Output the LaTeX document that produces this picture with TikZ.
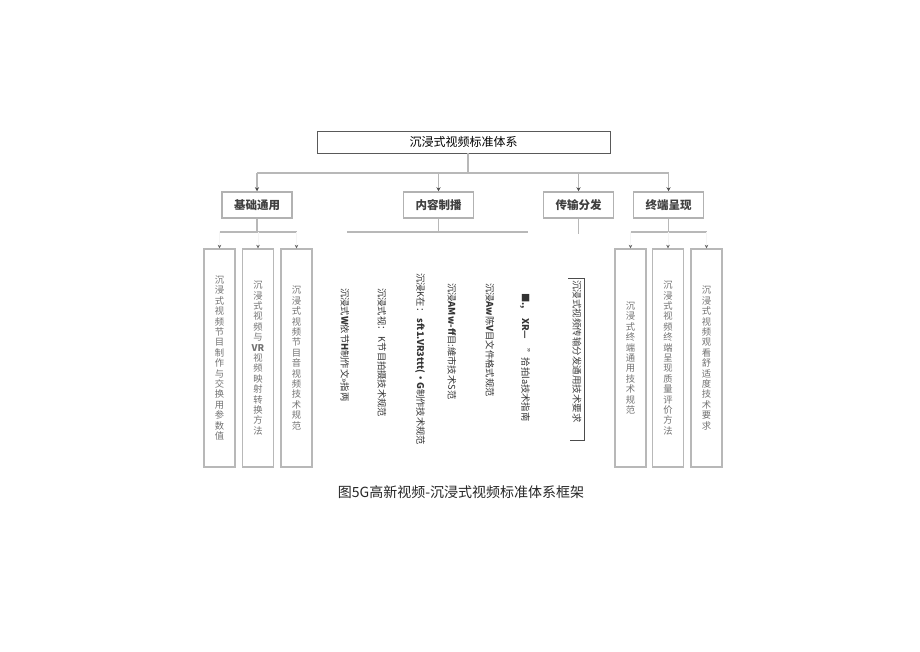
\documentclass[tikz,border=0pt]{standalone}
\usepackage{fontspec}
\setmainfont{Noto Sans CJK SC}
\usetikzlibrary{arrows.meta}
\ExplSyntaxOn
\tl_new:N \l_vt_tl
\NewDocumentCommand\vtext{m}{
  \tl_clear:N \l_vt_tl
  \tl_map_inline:nn {#1}{
    \tl_if_empty:NF \l_vt_tl {\tl_put_right:Nn \l_vt_tl {\\}}
    \tl_put_right:Nn \l_vt_tl {##1}
  }
  \tl_use:N \l_vt_tl
}
\ExplSyntaxOff
\tikzset{
 topbox/.style={draw=black!65, line width=0.9pt, minimum width=293pt, minimum height=22pt, inner sep=0pt, font=\fontsize{12}{14}\selectfont},
 catbox/.style={draw=black!30, line width=1.5pt, minimum width=70pt, minimum height=26pt, inner sep=0pt, font=\fontsize{11.5}{13}\selectfont\bfseries, text=black!75},
 leafbox/.style={draw=black!28, line width=1.4pt, minimum width=31pt, minimum height=218pt, inner sep=0pt, align=center, text=black!55, font=\fontsize{9.3}{10.4}\selectfont},
 link/.style={draw=black!28, line width=1.3pt},
 arr/.style={link, -{Stealth[length=4pt,width=4pt,color=black!70]}},
 leafarr/.style={draw=black!4, line width=0.8pt, -{Stealth[length=3.5pt,width=3.5pt,color=black!60]}},
 rottext/.style={rotate=-90, anchor=west, inner sep=0pt, text=black!80, font=\fontsize{9.3}{10}\selectfont},
 bracketline/.style={draw=black!70, line width=0.9pt},
 captext/.style={font=\fontsize{14}{16}\selectfont, text=black!85},
}
\begin{document}
\begin{tikzpicture}[x=1pt,y=-1pt]
\useasboundingbox[fill=white] (0,0) rectangle (920,651);

% top
\node[topbox] (top) at (463.5,142) {沉浸式视频标准体系};

% categories
\node[catbox] (c1) at (257,205) {基础通用};
\node[catbox] (c2) at (438.5,205) {内容制播};
\node[catbox] (c3) at (578.5,205) {传输分发};
\node[catbox] (c4) at (668.5,205) {终端呈现};

\coordinate (j0) at (468,173);
\coordinate (busy) at (0,232);
\coordinate (busy3) at (0,234);
\coordinate (m1) at (347,232);
\coordinate (m2) at (528,232);

\draw[link] (top.south -| j0) -- (j0);
\draw[link] (c1.north |- j0) -- (c4.north |- j0);
\foreach \c in {c1,c2,c3,c4}{
  \draw[arr] (\c.north |- j0) -- (\c.north);
}

% leaves left
\node[leafbox] (l1) at (219.5,358) {\vtext{沉浸式视频节目制作与交换用参数值}};
\node[leafbox] (l2) at (258,358) {\vtext{沉浸式视频与{\textbf{VR}}视频映射转换方法}};
\node[leafbox] (l3) at (296.5,358) {\vtext{沉浸式视频节目音视频技术规范}};

% leaves right
\node[leafbox] (r1) at (630.5,358) {\vtext{沉浸式终端通用技术规范}};
\node[leafbox] (r2) at (668,358) {\vtext{沉浸式视频终端呈现质量评价方法}};
\node[leafbox] (r3) at (706.5,358) {\vtext{沉浸式视频观看舒适度技术要求}};

% buses
\draw[link] (c1.south) -- (c1.south |- busy);
\draw[link] (l1.north |- busy) -- (l3.north |- busy);
\draw[link] (c2.south) -- (c2.south |- busy);
\draw[link] (m1) -- (m2);
\draw[link] (c3.south) -- (c3.south |- busy3);
\draw[link] (c4.south) -- (c4.south |- busy);
\draw[link] (r1.north |- busy) -- (r3.north |- busy);

\foreach \l in {l1,l2,l3,r1,r2,r3}{
  \draw[leafarr] (\l.north |- busy) -- (\l.north);
}

% content production texts (rotated)
\node[rottext] (t1) at (345,288) {沉浸式\textbf{W}依节\textbf{H}制作文»指两};
\node[rottext] (t2) at (382,288) {沉浸式视： K节目拍摄技术规范};
\node[rottext] (t3) at (420,273) {沉浸K在： \textbf{sft1.VR3ttt(•G}制作技术规范};
\node[rottext] (t4) at (452,283) {沉浸\textbf{AMw-ff}目:維市技术S范};
\node[rottext] (t5) at (490,283) {沉浸\textbf{Aw}陈\textbf{V}目文件格式规范};
\node[rottext] (t6) at (525,293) {\textbf{■.,}\quad\textbf{XR—}\quad"拾拍la技术指南};

% transmission
\node[rottext, font=\fontsize{9.5}{11}\selectfont, text=black!75] (t7) at (577,280) {沉浸式视频传输分发通用技术要求};
\coordinate (k1) at (568,278);
\coordinate (k2) at (584,278);
\coordinate (k3) at (584,440);
\coordinate (k4) at (570,440);
\draw[bracketline] (k1) -- (k2) -- (k3) -- (k4);

% caption
\node[captext] (cap) at (461,492) {图5G高新视频-沉浸式视频标准体系框架};
\end{tikzpicture}
\end{document}
